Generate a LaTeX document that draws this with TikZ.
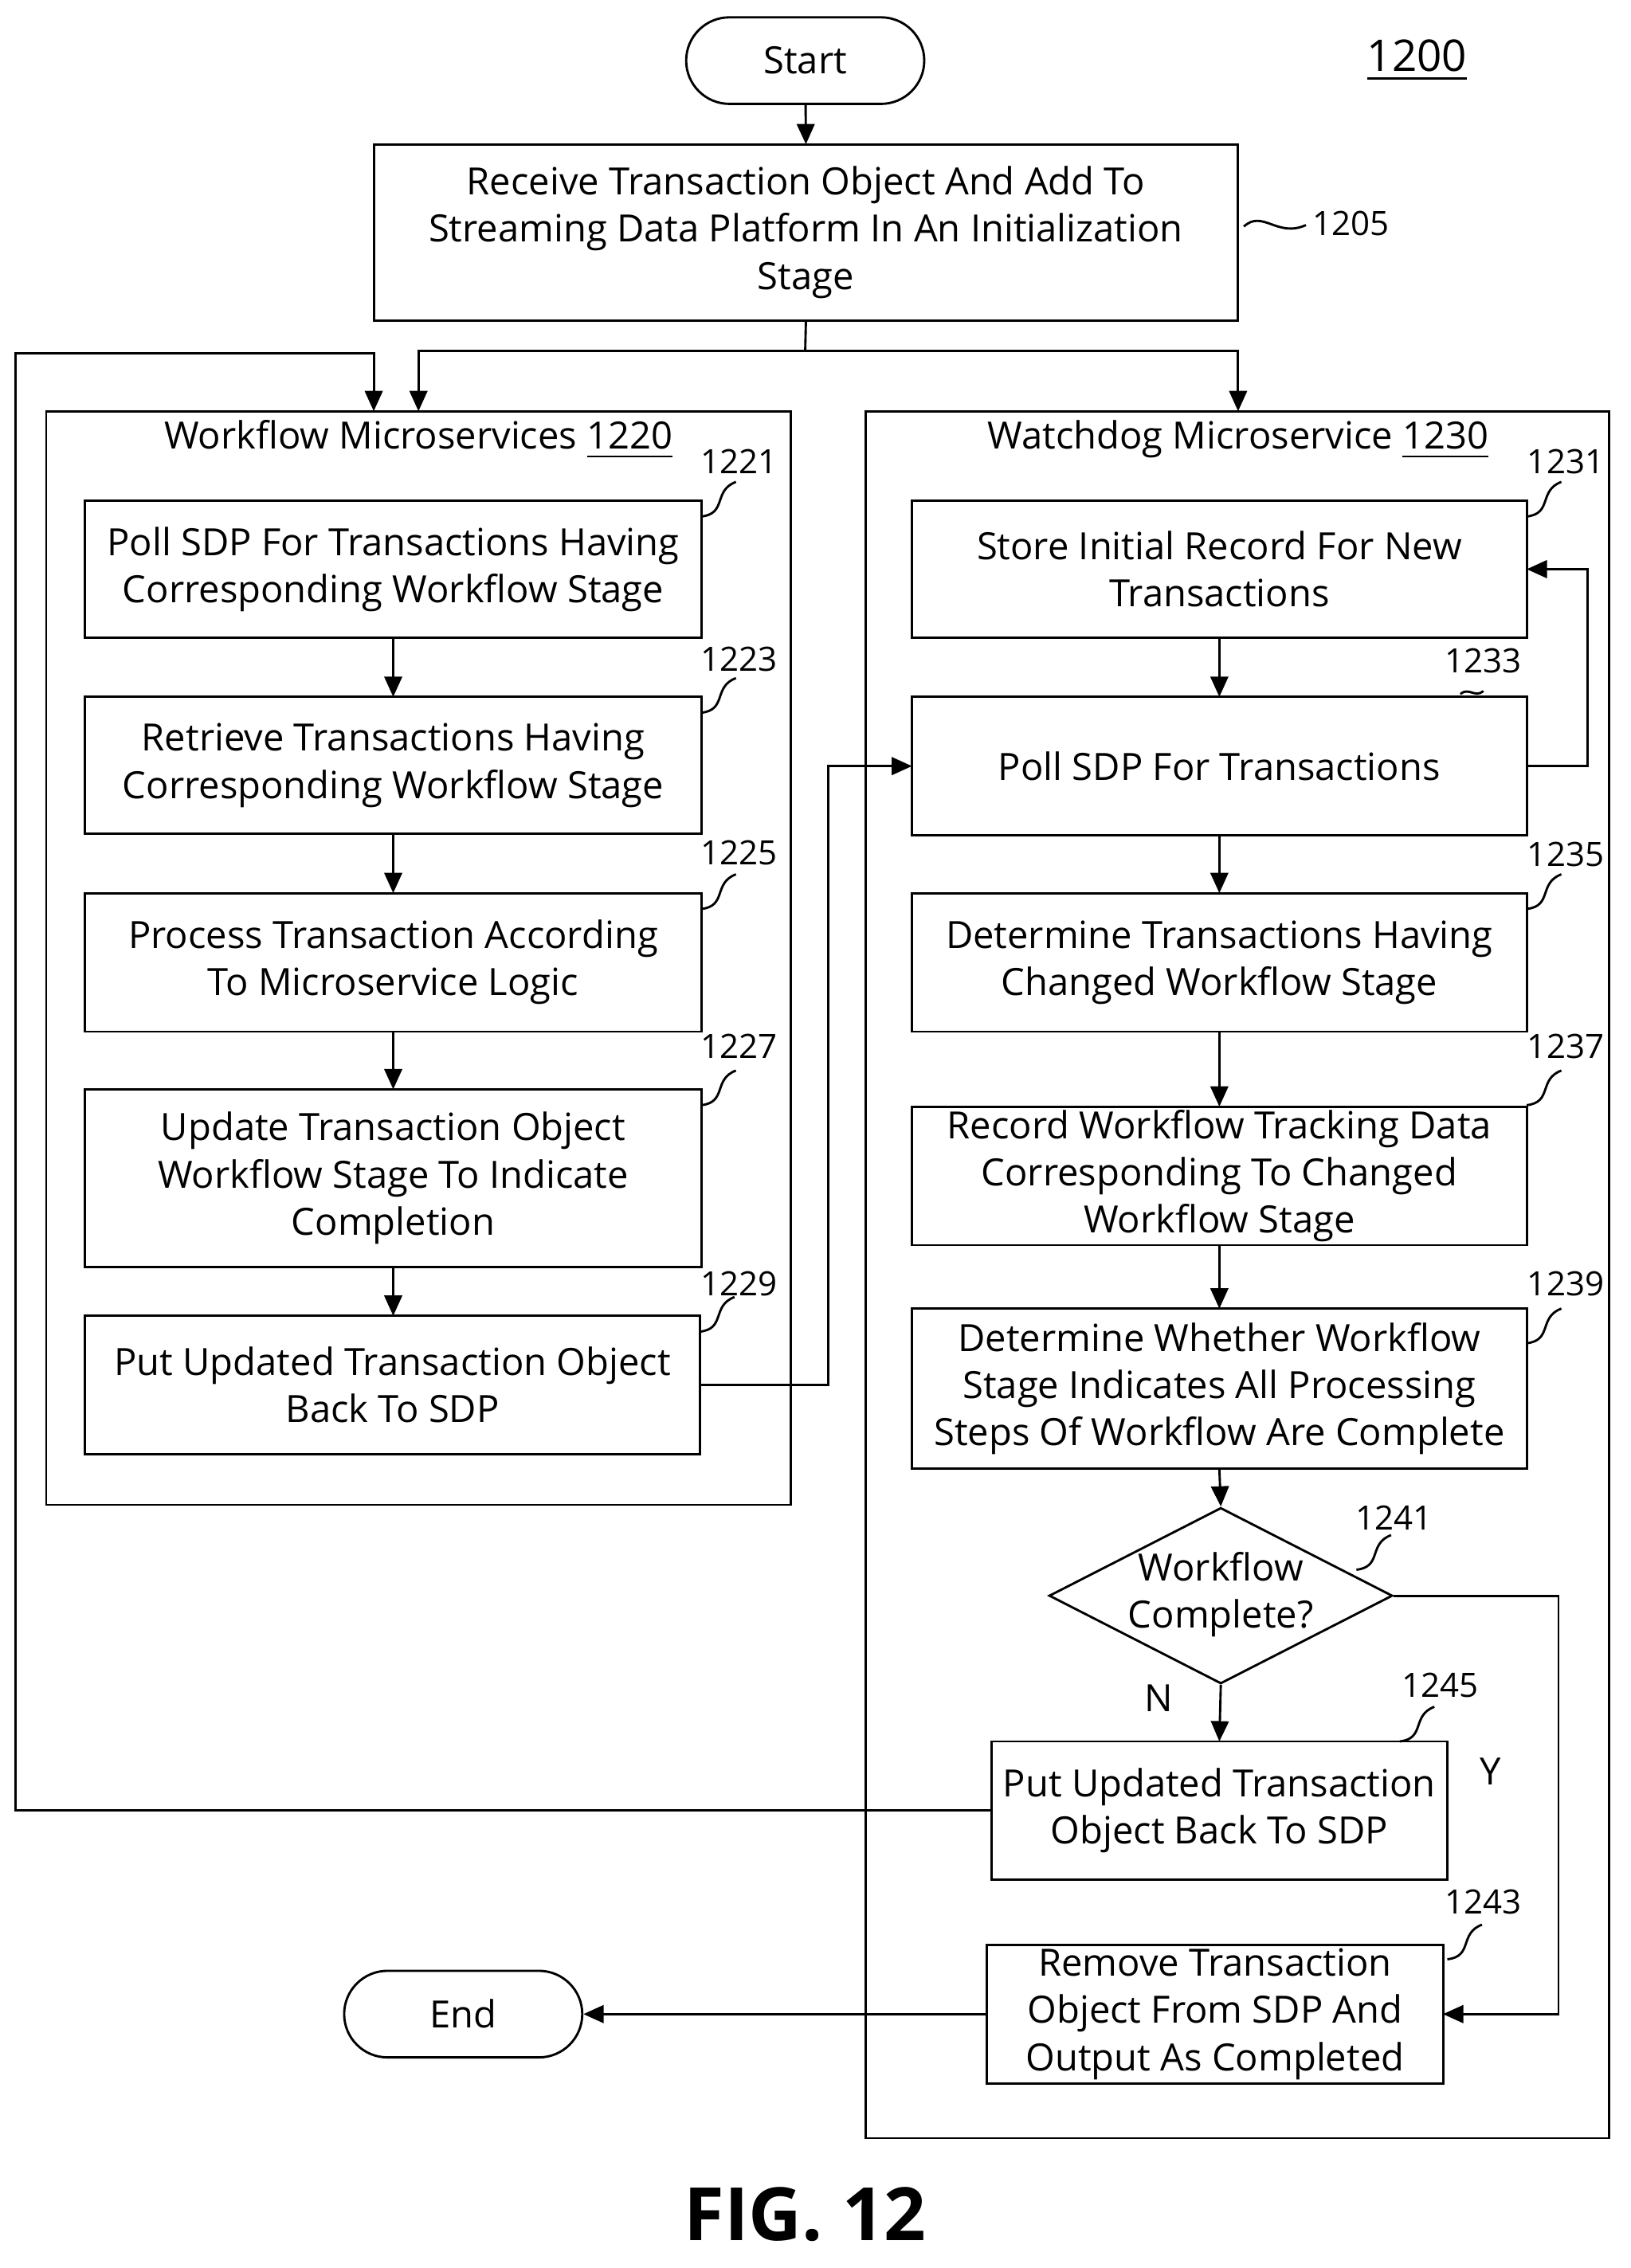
\documentclass[tikz,border=0pt]{standalone}
\usepackage{fontspec}
\setmainfont{Open Sans}
\usetikzlibrary{shapes.geometric,arrows.meta}
\begin{document}
\begin{tikzpicture}[x=0.01cm,y=-0.01cm,
  every node/.style={font=\fontsize{7.4}{9.3}\selectfont,align=center,inner sep=0},
  ln/.style={line width=0.45pt},
  arr/.style={ln,-{Triangle[length=4pt,width=3.5pt]}},
  num/.style={font=\fontsize{6.6}{8}\selectfont}]
\useasboundingbox (0,0) rectangle (1130,1572);
\tikzset{term/.style={draw,line width=0.45pt,rounded corners=30*0.01cm,minimum width=165*0.01cm,minimum height=60*0.01cm}}
\node[term] (start) at (558,42) {Start};
\node[font=\fontsize{8.6}{10}\selectfont] (n1200) at (982,42) {\underline{1200}};
\newcommand\bx[6]{\draw[ln] (#2,#3) rectangle (#4,#5); \node (#1) at ({(#2+#4)/2},{(#3+#5)/2}) {#6};
  \coordinate (#1n) at ({(#2+#4)/2},#3); \coordinate (#1s) at ({(#2+#4)/2},#5);
  \coordinate (#1w) at (#2,{(#3+#5)/2}); \coordinate (#1e) at (#4,{(#3+#5)/2});}
\bx{b1205}{259}{100}{858}{222}{Receive Transaction Object And Add To\\Streaming Data Platform In An Initialization\\Stage}
\node[num] (l1205) at (936,155) {1205};
\draw[ln] (862,157) .. controls (875,145) and (885,165) .. (905,156);
\draw[ln] (32,285) rectangle (548,1043);
\draw[ln] (600,285) rectangle (1115,1482);
\coordinate (lc) at (290,285); \coordinate (lc2) at (259,285); \coordinate (rc) at (858,285);
\node (t1220) at (290,305) {Workflow Microservices \underline{1220}};
\node (t1230) at (858,305) {Watchdog Microservice \underline{1230}};
\bx{b1221}{59}{347}{486}{442}{Poll SDP For Transactions Having\\Corresponding Workflow Stage}
\bx{b1223}{59}{483}{486}{578}{Retrieve Transactions Having\\Corresponding Workflow Stage}
\bx{b1225}{59}{619}{486}{715}{Process Transaction According\\To Microservice Logic}
\bx{b1227}{59}{755}{486}{878}{Update Transaction Object\\Workflow Stage To Indicate\\Completion}
\bx{b1229}{59}{912}{485}{1008}{Put Updated Transaction Object\\Back To SDP}
\bx{b1231}{632}{347}{1058}{442}{Store Initial Record For New\\Transactions}
\bx{b1233}{632}{483}{1058}{579}{Poll SDP For Transactions}
\bx{b1235}{632}{619}{1058}{715}{Determine Transactions Having\\Changed Workflow Stage}
\bx{b1237}{632}{767}{1058}{863}{Record Workflow Tracking Data\\Corresponding To Changed\\Workflow Stage}
\bx{b1239}{632}{907}{1058}{1018}{Determine Whether Workflow\\Stage Indicates All Processing\\Steps Of Workflow Are Complete}
\node[draw,line width=0.45pt,diamond,minimum width=238*0.01cm,minimum height=122*0.01cm,aspect=1.95] (d1241) at (846,1106) {};
\node (d1241t) at (846,1105) {Workflow\\Complete?};
\bx{b1245}{687}{1207}{1003}{1303}{Put Updated Transaction\\Object Back To SDP}
\bx{b1243}{684}{1348}{1000}{1444}{Remove Transaction\\Object From SDP And\\Output As Completed}
\node[term] (end) at (321,1396) {End};
\newcommand\hk[5]{\node[num] (#1) at (#2,#3) {#1};
  \draw[ln] (#4,#5) .. controls ({#4+18},{#5-2}) and ({#4+8},{#5-18}) .. ({#4+24},{#5-24});}
\hk{1221}{512}{320}{486}{358}
\hk{1223}{512}{457}{486}{494}
\hk{1225}{512}{591}{486}{630}
\hk{1227}{512}{725}{486}{766}
\hk{1229}{512}{890}{485}{923}
\hk{1231}{1085}{320}{1058}{358}
\hk{1235}{1085}{592}{1058}{630}
\hk{1237}{1085}{725}{1058}{766}
\hk{1239}{1085}{890}{1058}{931}
\hk{1241}{966}{1052}{940}{1088}
\hk{1245}{998}{1168}{970}{1207}
\hk{1243}{1028}{1318}{1003}{1358}
\node[num] (n1233) at (1028,458) {1233};
\draw[ln] (1012,481) .. controls (1018,476) and (1022,484) .. (1028,479);
\node (lN) at (803,1177) {N};
\node (lY) at (1033,1228) {Y};
\draw[arr] (start) -- (b1205n);
\draw[ln] (b1205s) -- (558,243);
\draw[arr] (558,243) -| (lc);
\draw[arr] (558,243) -| (rc);
\draw[arr] (b1245w) -| (11,245) -| (lc2);
\draw[arr] (b1221s) -- (b1223n);
\draw[arr] (b1223s) -- (b1225n);
\draw[arr] (b1225s) -- (b1227n);
\draw[arr] (b1227s) -- (b1229n -| b1227s);
\draw[arr] (b1229e) -| (574,700) |- (b1233w);
\draw[arr] (b1233e) -| (1100,450) |- (b1231e);
\draw[arr] (b1231s) -- (b1233n);
\draw[arr] (b1233s) -- (b1235n);
\draw[arr] (b1235s) -- (b1237n);
\draw[arr] (b1237s) -- (b1239n);
\draw[arr] (b1239s) -- (d1241.north);
\draw[arr] (d1241.south) -- (b1245n);
\draw[arr] (d1241.east) -| (1080,1300) |- (b1243e);
\draw[arr] (b1243w) -- (end.east);
\node[font=\fontsize{14.5}{16}\selectfont\bfseries] (fig) at (558,1535) {FIG. 12};
\end{tikzpicture}
\end{document}
